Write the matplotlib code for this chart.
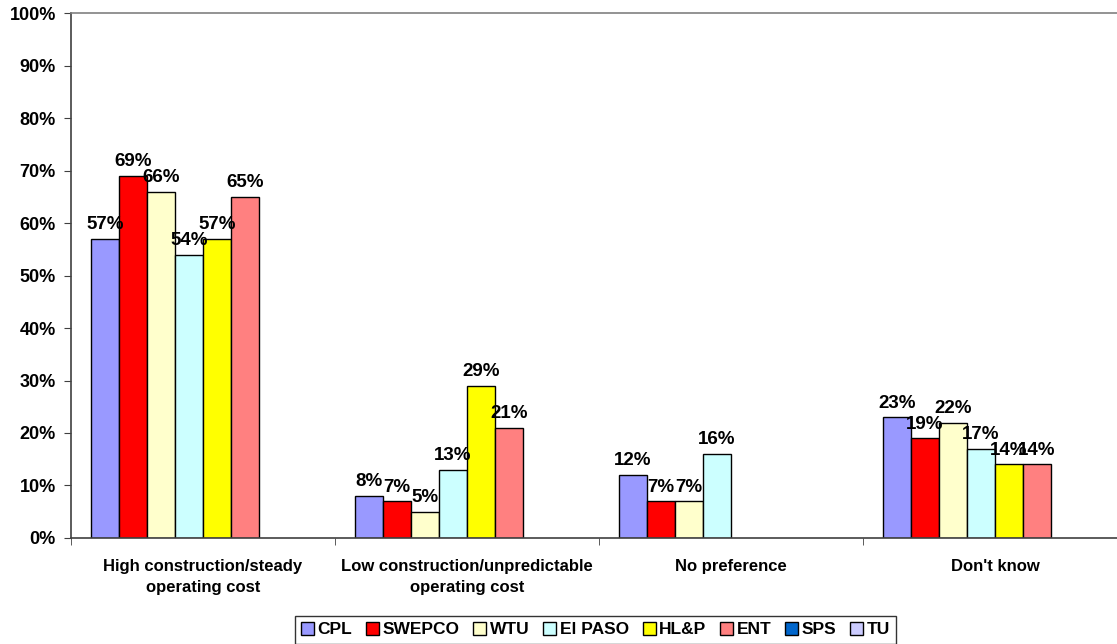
import matplotlib
matplotlib.use('Agg')
import matplotlib.pyplot as plt
import numpy as np

plt.rcParams['font.family'] = ['Liberation Sans', 'DejaVu Sans']
plt.rcParams['font.weight'] = 'bold'

categories = ['High construction/steady\noperating cost',
              'Low construction/unpredictable\noperating cost',
              'No preference',
              "Don't know"]
series = ['CPL', 'SWEPCO', 'WTU', 'El PASO', 'HL&P', 'ENT', 'SPS', 'TU']
nan = np.nan
cpl = [57, 8, 12, 23]
swepco = [69, 7, 7, 19]
wtu = [66, 5, 7, 22]
elpaso = [54, 13, 16, 17]
hlp = [57, 29, nan, 14]
ent = [65, 21, nan, 14]
sps = [nan, nan, nan, nan]
tu = [nan, nan, nan, nan]
values = [cpl, swepco, wtu, elpaso, hlp, ent, sps, tu]

colors = ['#9999FF', '#FF0000', '#FFFFCC', '#CCFFFF', '#FFFF00', '#FF8080', '#0066CC', '#CCCCFF']

fig = plt.figure(figsize=(11.17, 6.44), dpi=100)
ax = fig.add_axes([0.0636, 0.1646, 1.009 - 0.0636, 0.9798 - 0.1646])

x = np.arange(len(categories))
w = 0.106
handles = []
for j, (name, vals) in enumerate(zip(series, values)):
    pos = x + (j - 3.5) * w
    h = ax.bar(pos, vals, width=w, color=colors[j], edgecolor='black', linewidth=1.0, label=name)
    handles.append(h)
    for xp, v in zip(pos, vals):
        if np.isnan(v):
            continue
        ax.annotate('%d%%' % v, (xp, v), xytext=(0, 4), textcoords='offset points',
                    ha='center', va='bottom', fontsize=13.5, fontweight='bold')

ax.set_xlim(-0.5, 3.5)
ax.set_ylim(0, 100)
ax.set_yticks(np.arange(0, 101, 10))
ax.set_yticklabels(['%d%%' % t for t in range(0, 101, 10)], fontsize=13, fontweight='bold')
ax.set_xticks(x)
ax.set_xticklabels(categories, fontsize=12, fontweight='bold', linespacing=1.55)
ax.set_xticks(np.arange(-0.5, 4, 1), minor=True)
ax.tick_params(axis='x', which='major', length=0, pad=15)
ax.tick_params(axis='x', which='minor', length=5, direction='out', color='#404040')
ax.tick_params(axis='y', length=5, direction='out', color='#404040', pad=6)

ax.spines['left'].set_color('#404040')
ax.spines['bottom'].set_color('#404040')
ax.spines['top'].set_color('#808080')
ax.spines['right'].set_visible(False)
for s in ax.spines.values():
    s.set_linewidth(1.2)

leg = fig.legend(handles=handles, labels=series, loc='upper center', bbox_to_anchor=(0.533, 0.057),
                 ncol=8, frameon=True, fancybox=False, edgecolor='black',
                 handlelength=0.75, handleheight=0.75, handletextpad=0.2, columnspacing=0.8,
                 borderpad=0.35, prop={'weight': 'bold', 'size': 12.5})
leg.get_frame().set_linewidth(1.0)

fig.savefig('out.png', dpi=100)
